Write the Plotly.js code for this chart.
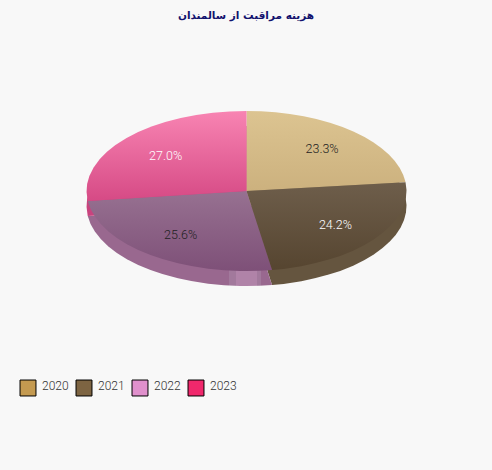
<!DOCTYPE html>
<html><head><meta charset="utf-8">
<script src="https://cdn.plot.ly/plotly-3.0.1.min.js"></script>
<style>html,body{margin:0;padding:0;background:#f8f8f8}</style></head>
<body><div id="chart" style="width:492px;height:470px"></div>
<script>
const titleText = 'هزینه مراقبت از سالمندان';
const years = ['2020','2021','2022','2023'];
const shares = [23.3,24.2,25.6,27.0];
const legendColors = ['#c49a50','#7d6442','#e090cc','#f0286c'];
const labelColors = ['#222222','#ffffff','#222222','#ffffff'];
const topColors = [['#dcc491','#ccb17e'],['#6e5e4b','#564530'],['#977191','#7e5078'],['#f884b2','#d64a85']];
const rimColors = ['#a8926a','#65553f','#99688f','#c9437e'];

const centerX = 246.5, centerY = 191, radius = 160, squash = 0.5, rimDepth = 15, W = 492, H = 470;
const labelPush = 1.18, legendStep = 56, legendSwatchX = 28, legendTextX = 42, legendSwatchY = 388, legendTextY = 386;
const domain = {x:[(centerX-radius)/W,(centerX+radius)/W], y:[(H-centerY-radius)/H,(H-centerY+radius)/H]};

const rimTrace = {type:'pie',values:shares,labels:years,sort:false,direction:'clockwise',rotation:0,domain,
  textinfo:'none',showlegend:false,hoverinfo:'skip',marker:{colors:rimColors,line:{width:0}}};
const topTrace = {type:'pie',values:shares,labels:years,sort:false,direction:'clockwise',rotation:0,domain,
  textinfo:'percent',textposition:'inside',insidetextorientation:'horizontal',
  texttemplate:'%{percent:.1%}',
  insidetextfont:{family:'Roboto',size:12.5,weight:300,color:labelColors},
  marker:{colors:legendColors,line:{width:0}}};

const layout = {width:W,height:H,margin:{l:0,r:0,t:0,b:0},paper_bgcolor:'#f8f8f8',plot_bgcolor:'#f8f8f8',
  title:{text:'<b>'+titleText+'</b>',font:{family:'DejaVu Sans',size:10.5,color:'#12126e'},x:0.5,xanchor:'center',y:0.968,yanchor:'middle'},
  showlegend:true,
  legend:{orientation:'h',x:0.03,xanchor:'left',y:0.196,yanchor:'middle',font:{family:'Roboto',size:12,weight:300,color:'#333333'},
    traceorder:'normal',bgcolor:'rgba(0,0,0,0)',itemclick:false,itemdoubleclick:false}};

function addGradient(defs,id,attrs,stops){
  const NS='http://www.w3.org/2000/svg';
  const g=document.createElementNS(NS,'linearGradient');
  g.id=id;
  Object.entries(attrs).forEach(([k,v])=>g.setAttribute(k,v));
  stops.forEach(([o,col])=>{const s=document.createElementNS(NS,'stop');s.setAttribute('offset',o);s.setAttribute('stop-color',col);g.appendChild(s);});
  defs.appendChild(g);
}

Plotly.newPlot('chart',[rimTrace,topTrace],layout,{displayModeBar:false}).then(gd=>{
  const svg = gd.querySelector('svg.main-svg');
  const defs = svg.querySelector('defs');
  topColors.forEach((c,i)=>addGradient(defs,'topgrad'+i,{x1:0,y1:0,x2:0,y2:1},[[0,c[0]],[1,c[1]]]));
  // the lighter band at the front of the rim
  const u = x => (x-centerX+radius)/(2*radius);
  const band = [[0,'#99688f'],[u(229),'#99688f'],[u(229),'#a2799c'],[u(236),'#a2799c'],[u(236),'#b083a8'],[u(257),'#b083a8'],[u(257),'#a2799c'],[u(261),'#a2799c'],[u(261),'#99688f'],[1,'#99688f']];
  addGradient(defs,'rimband',{gradientUnits:'userSpaceOnUse',x1:centerX-radius,y1:0,x2:centerX+radius,y2:0},band);

  const traces = gd.querySelectorAll('.pielayer .trace');
  traces.forEach((tr,ti)=>{
    const dy = ti===0 ? rimDepth : 0;
    tr.querySelectorAll('.slice').forEach((sl,i)=>{
      const p = sl.querySelector('path.surface');
      p.setAttribute('transform',`translate(0,${centerY+dy}) scale(1,${squash}) translate(0,${-centerY})`);
      if(ti===0 && i===2) p.style.fill='url(#rimband)';
      if(ti===1){
        p.style.fill=`url(#topgrad${i})`;
        const g = sl.querySelector('g.slicetext');
        const tt = g && g.querySelector('text');
        if(tt){
          const b = tt.getBoundingClientRect();
          const cx = b.left+b.width/2, cy = b.top+b.height/2;
          const nx = centerX+(cx-centerX)*labelPush, ny = centerY+(cy-centerY)*squash*labelPush;
          g.setAttribute('transform',`translate(${nx-cx},${ny-cy})`);
        }
      }
    });
  });
  const box = el => el.getBoundingClientRect();
  gd.querySelectorAll('.legend .traces').forEach((item,i)=>{
    const p = item.querySelector('.legendpoints path');
    p.setAttribute('transform',(p.getAttribute('transform')||'')+' scale(1.33)');
    p.style.stroke='#000';p.style.strokeWidth='1px';p.style.vectorEffect='non-scaling-stroke';
    const m = /translate\(([-\d.]+)[ ,]+([-\d.]+)\)/.exec(item.getAttribute('transform')||'translate(0,0)');
    let b = box(p);
    const ddx = legendSwatchX+legendStep*i-(b.left+b.width/2), ddy = legendSwatchY-(b.top+b.height/2);
    item.setAttribute('transform',`translate(${+m[1]+ddx},${+m[2]+ddy})`);
    const t = item.querySelector('text.legendtext');
    b = box(t);
    t.setAttribute('x',+t.getAttribute('x')+legendTextX+legendStep*i-b.left);
    t.setAttribute('y',(+t.getAttribute('y')||0)+legendTextY-(b.top+b.height/2));
  });
  const lg = gd.querySelector('.legend');
  const clip = lg && lg.querySelector('.scrollbox');
  if(clip) clip.removeAttribute('clip-path');
  if(lg) lg.querySelectorAll('.legendtoggle').forEach(r=>r.style.pointerEvents='none');
});
</script></body></html>
